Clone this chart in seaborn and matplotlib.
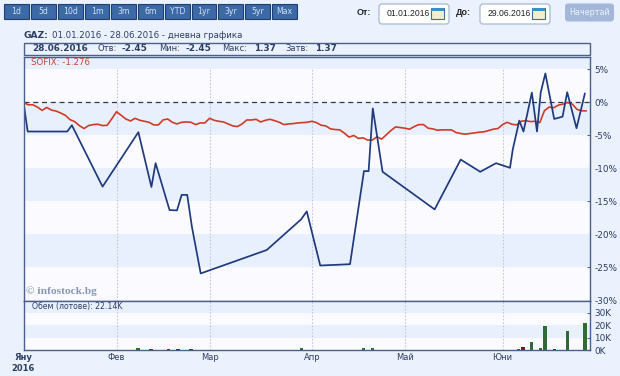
import matplotlib
matplotlib.use('Agg')
import matplotlib.pyplot as plt
from matplotlib.patches import FancyBboxPatch, Rectangle
import pandas as pd
import seaborn as sns

# x axis counts trading sessions from 01.01.2016
month_sessions = [0, 20, 40, 62, 82, 103]
month_labels = ['Яну\n2016', 'Фев', 'Мар', 'Апр', 'Май', 'Юни']
pct_ticks = [5, 0, -5, -10, -15, -20, -25, -30]
vol_ticks = [0, 10000, 20000, 30000]
vol_labels = ['0K', '10K', '20K', '30K']
button_labels = ['1d', '5d', '10d', '1m', '3m', '6m', 'YTD', '1yr', '3yr', '5yr', 'Max']

gaz_sessions = [0, 0.9, 9.4, 10.4, 17, 24.7, 27.5, 28.4, 31.4, 33, 34, 35.2, 36.2, 38.1,
                52.3, 59.7, 60.9, 63.8, 70.2, 73.2, 74.2, 75.1, 77.2, 88.4, 94, 98.2,
                101.6, 104.6, 105.2, 106.6, 107.5, 109.3, 110.4, 111.2, 112.2, 114.1,
                115.9, 116.9, 118.9, 120.7]
gaz_pct = [0, -4.4, -4.4, -3.45, -12.75, -4.5, -12.8, -9.2, -16.3, -16.35, -14, -14, -18.8, -25.9,
           -22.35, -17.7, -16.5, -24.7, -24.5, -10.4, -10.4, -0.9, -10.5, -16.2, -8.65, -10.5,
           -9.2, -9.9, -7.1, -2.75, -4.4, 1.5, -4.4, 1.5, 4.4, -2.5,
           -2.15, 1.55, -3.9, 1.37]

sofix_pct = [0, -.35, -.35, -.7, -1.2, -.75, -1.15, -1.3, -1.6, -1.95,
             -2.6, -2.9, -3.5, -3.95, -3.5, -3.35, -3.3, -3.5, -3.45, -2.45,
             -1.4, -1.95, -2.5, -2.8, -2.4, -2.7, -2.85, -3, -3.4, -3.4,
             -2.65, -2.5, -3, -3.25, -3, -2.95, -3, -3.35, -3.1, -3.1,
             -2.4, -2.7, -2.85, -2.95, -3.25, -3.55, -3.65, -3.25, -2.65, -2.65,
             -2.55, -2.95, -2.7, -2.55, -2.75, -3, -3.35, -3.25, -3.2, -3.1,
             -3.05, -3, -2.85, -3.05, -3.45, -3.55, -4, -4.1, -4.15, -4.65,
             -5.25, -5, -5.45, -5.35, -5.7, -5.7, -5.2, -5.55, -4.9, -4.25,
             -3.7, -3.8, -3.9, -4.05, -3.65, -3.35, -3.35, -3.9, -4, -4.2,
             -4.15, -4.15, -4.15, -4.55, -4.7, -4.8, -4.7, -4.6, -4.5, -4.45,
             -4.25, -4.05, -3.95, -3.35, -3, -3.3, -3.4, -2.85, -2.75, -2.9,
             -2.85, -3.05, -1.25, -.7, -.8, -.4, -.25, 0, -.25, -1.05,
             -1.25, -1.276]

vol_sessions = [10.3, 24.6, 27.4, 31.1, 33.2, 36, 59.7, 73.1, 75, 106.5, 107.4,
                109.3, 111.1, 112.1, 114.1, 116.9, 120.7]
vol_lots = [400, 1300, 800, 800, 800, 500, 1300, 1300, 1800, 1000, 2800,
            6500, 2000, 19500, 900, 15500, 22140]
vol_up = [True, True, False, False, False, False, True, True, True, True, False,
          True, True, True, False, True, True]

navy = '#1f3a7d'
red = '#cf3a2a'
page = '#ebf2fd'
band = '#e9f0fd'
white = '#fbfbff'
ink = '#2c3e63'
frame = '#4a6088'
dotted = '#c3c6e2'

W, H = 620, 376
L, R, TOP, MID, BOT = 23.5, 590, 57, 300.5, 350

sns.set_style('white')
plt.rcParams['font.family'] = ['DejaVu Sans']
fig = plt.figure(figsize=(W / 100, H / 100), dpi=100, facecolor=page)


def px_axes(y0, y1):
    return fig.add_axes([L / W, 1 - y1 / H, (R - L) / W, (y1 - y0) / H])


# page furniture drawn in pixel coordinates
bg = fig.add_axes([0, 0, 1, 1], zorder=0)
bg.set_xlim(0, W)
bg.set_ylim(H, 0)
bg.axis('off')

button_x = [4, 31, 58, 85, 111, 138, 165, 192, 218, 245, 272, 299]
for i, label in enumerate(button_labels):
    x0, x1 = button_x[i], button_x[i + 1] - 2
    bg.add_patch(Rectangle((x0, 4), x1 - x0, 14.5, fc='#3b6aa6', ec='#1d3f72', lw=0.8))
    bg.text((x0 + x1) / 2, 11.5, label, color='#d5e0f0', fontsize=5.6, ha='center', va='center')


def date_box(x0, x1, label, text_x):
    bg.add_patch(FancyBboxPatch((x0 + 1, 4), x1 - x0 - 1, 20, boxstyle='round,pad=0,rounding_size=3',
                                mutation_aspect=1, fc='white', ec='#a9b8cf', lw=0.9))
    bg.text(text_x, 14, label, color='#222222', fontsize=6.2, family='Liberation Sans', ha='left', va='center')
    bg.add_patch(Rectangle((x1 - 18, 8), 13, 11, fc='#f4eecb', ec='#3a6f9e', lw=0.8))
    bg.add_patch(Rectangle((x1 - 18, 8), 13, 2.5, fc='#3f8fc0', ec='none'))


date_box(378, 449, '01.01.2016', 387)
date_box(479, 550, '29.06.2016', 488)
bg.text(356.5, 12.5, 'От:', color='#222222', fontsize=6.4, family='Liberation Sans', weight='bold', ha='left', va='center')
bg.text(456, 12.5, 'До:', color='#222222', fontsize=6.4, family='Liberation Sans', weight='bold', ha='left', va='center')
bg.add_patch(FancyBboxPatch((565, 3.5), 49, 18, boxstyle='round,pad=0,rounding_size=3', fc='#a3b8d8', ec='none'))
bg.text(589.5, 12.5, 'Начертай', color='#eef3fb', fontsize=5.8, ha='center', va='center')

bg.text(23, 35, 'GAZ:', color=ink, fontsize=6.6, weight='bold', ha='left', va='center')
bg.text(52, 35, '01.01.2016 - 28.06.2016 - дневна графика', color=ink, fontsize=6.2, ha='left', va='center')
bg.add_patch(Rectangle((L, 42.5), R - L - 0.5, 12, fc='none', ec=frame, lw=1))
info = [(32, '28.06.2016', True), (97, 'Отв:', False), (122, '-2.45', True), (159, 'Мин:', False),
        (186, '-2.45', True), (222, 'Макс:', False), (254, '1.37', True), (285, 'Затв:', False), (315, '1.37', True)]
for x, text, strong in info:
    bg.text(x, 48.5, text, color=ink, fontsize=6.4 if strong else 6, weight='bold' if strong else 'normal',
            ha='left', va='center')

# main price panel
gaz = pd.DataFrame({'session': gaz_sessions, 'pct': gaz_pct})
sofix = pd.DataFrame({'session': range(len(sofix_pct)), 'pct': sofix_pct})

ax = px_axes(TOP, MID)
ax.set_facecolor(white)
ax.set_xlim(0, 121.8)
ax.set_ylim(-30, 6.89)
ax.axhspan(5, 6.89, color=band, lw=0)
for low in [-5, -15, -25]:
    ax.axhspan(low, low + 5, color=band, lw=0)
ax.vlines(month_sessions[1:], -30, 5, color=dotted, lw=0.8, linestyles=(0, (1.5, 1.5)))
ax.axhline(0, color='#2a3a55', lw=0.9, linestyle=(0, (4, 3)))
sns.lineplot(data=sofix, x='session', y='pct', color=red, lw=1.2, ax=ax, estimator=None)
sns.lineplot(data=gaz, x='session', y='pct', color=navy, lw=1.25, ax=ax, estimator=None, sort=False)
ax.set_xlabel('')
ax.set_ylabel('')
ax.set_xticks([])
ax.yaxis.tick_right()
ax.set_yticks(pct_ticks)
ax.set_yticklabels([f'{t}%' for t in pct_ticks], color=ink, fontsize=6.4)
ax.tick_params(axis='y', direction='in', length=2.5, width=0.8, color=frame, pad=3, right=True, left=False)

# volume panel
ax2 = px_axes(MID, BOT)
ax2.set_facecolor(white)
ax2.set_xlim(0, 121.8)
ax2.set_ylim(0, 40000)
ax2.axhspan(30000, 40000, color=band, lw=0)
ax2.axhspan(10000, 20000, color=band, lw=0)
ax2.vlines(month_sessions[1:], 0, 40000, color=dotted, lw=0.8, linestyles=(0, (1.5, 1.5)))
colors = ['#2f6b35' if up else '#7d1226' for up in vol_up]
ax2.bar(vol_sessions, vol_lots, width=0.7, color=colors, lw=0)
ax2.yaxis.tick_right()
ax2.set_yticks(vol_ticks)
ax2.set_yticklabels(vol_labels, color=ink, fontsize=6.4)
ax2.tick_params(axis='y', direction='in', length=2.5, width=0.8, color=frame, pad=3, right=True, left=False)
ax2.set_xticks(month_sessions)
ax2.set_xticklabels(month_labels, color=ink, fontsize=6, linespacing=1.3)
ax2.tick_params(axis='x', length=0, pad=2, bottom=True)
first = ax2.get_xticklabels()[0]
first.set_weight('bold')

for a in [ax, ax2]:
    for side in a.spines.values():
        side.set_visible(True)
        side.set_color(frame)
        side.set_linewidth(1)

# these sit over the panels
top = fig.add_axes([0, 0, 1, 1], zorder=5)
top.set_xlim(0, W)
top.set_ylim(H, 0)
top.axis('off')
top.patch.set_alpha(0)
top.text(26.5, 291.5, '© infostock.bg', color='#8896b4', fontsize=8.2, family='Liberation Serif', weight='bold',
         ha='left', va='center')
top.text(32, 306, 'Обем (лотове): 22.14K', color=ink, fontsize=5.6, ha='left', va='center')
top.text(31, 62.5, 'SOFIX: -1.276', color='#c0433a', fontsize=6.2, ha='left', va='center')

fig.savefig('out.png', dpi=100, facecolor=page)
